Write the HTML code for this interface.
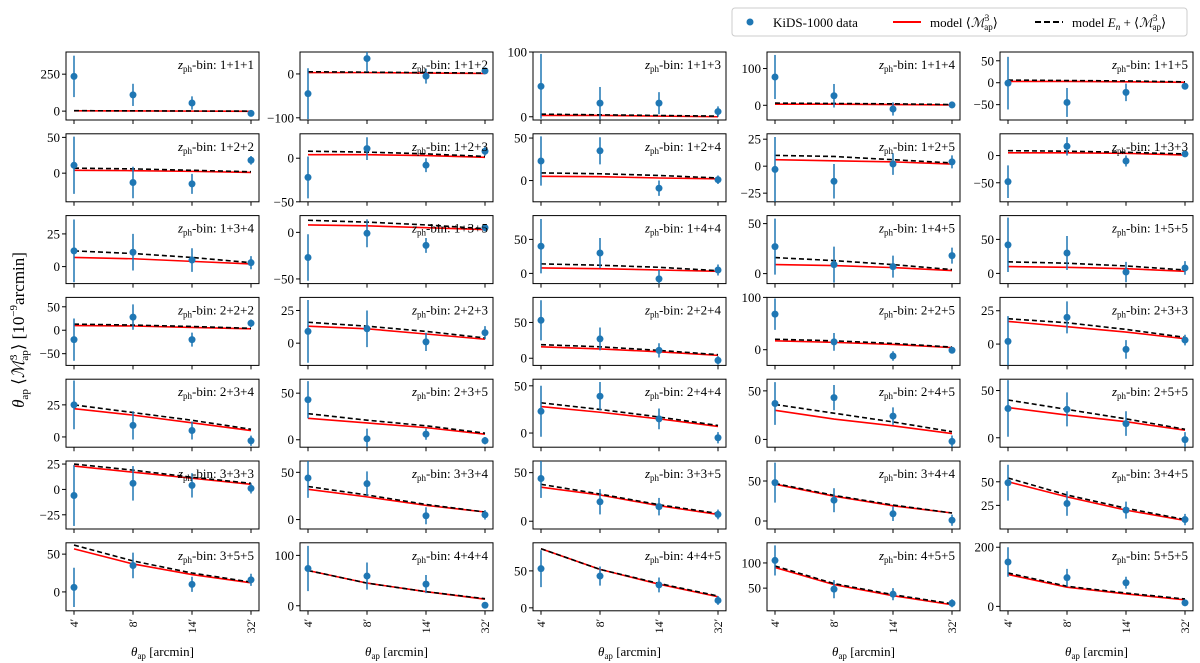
<!DOCTYPE html>
<html><head><meta charset="utf-8"><style>
body{margin:0;background:#fff}
svg{display:block;font-family:"Liberation Serif",serif}
</style></head><body>
<svg id="chart" width="1200" height="663" xmlns="http://www.w3.org/2000/svg">
<g id="legend">
<rect x="732" y="8" width="455" height="28" rx="3" fill="#fff" stroke="#ccc"/>
<circle cx="750" cy="22" r="3.5" fill="#1f77b4"/>
<text x="773" y="27" font-size="13">KiDS-1000 data</text>
<line x1="893" y1="22" x2="921" y2="22" stroke="#f00" stroke-width="2"/>
<text x="930" y="27" font-size="13">model ⟨<tspan font-style="italic">ℳ</tspan><tspan font-size="9" dy="-6">3</tspan><tspan font-size="9" dx="-5" dy="9">ap</tspan><tspan dy="-3">⟩</tspan></text>
<line x1="1035" y1="22" x2="1063" y2="22" stroke="#000" stroke-width="2" stroke-dasharray="6,3"/>
<text x="1072" y="27" font-size="13">model <tspan font-style="italic">E<tspan font-size="9" dy="3">n</tspan></tspan><tspan dy="-3"> + ⟨</tspan><tspan font-style="italic">ℳ</tspan><tspan font-size="9" dy="-6">3</tspan><tspan font-size="9" dx="-5" dy="9">ap</tspan><tspan dy="-3">⟩</tspan></text>
</g>
<text transform="translate(24,330) rotate(-90)" text-anchor="middle" font-size="17"><tspan font-style="italic">θ</tspan><tspan font-size="11" dy="4">ap</tspan><tspan dy="-4"> ⟨</tspan><tspan font-style="italic">ℳ</tspan><tspan font-size="11" dy="-7">3</tspan><tspan font-size="11" dx="-6" dy="11">ap</tspan><tspan dy="-4">⟩ [10</tspan><tspan font-size="11" dy="-7">−9</tspan><tspan dy="7">arcmin]</tspan></text>
</svg>
<script>
const xLabels=["4′","8′","14′","32′"];
const binLabels=["1+1+1","1+1+2","1+1+3","1+1+4","1+1+5","1+2+2","1+2+3","1+2+4","1+2+5","1+3+3","1+3+4","1+3+5","1+4+4","1+4+5","1+5+5","2+2+2","2+2+3","2+2+4","2+2+5","2+3+3","2+3+4","2+3+5","2+4+4","2+4+5","2+5+5","3+3+3","3+3+4","3+3+5","3+4+4","3+4+5","3+5+5","4+4+4","4+4+5","4+5+5","5+5+5"];
const yLims=[[-60,400],[-105,50],[-5,100],[-40,145],[-85,70],[-40,55],[-50,28],[-25,55],[-33,30],[-85,40],[-13,39],[-55,18],[-15,85],[-10,58],[-15,85],[-75,70],[-17,35],[-10,85],[-30,100],[-16,35],[-8,45],[-8,65],[-15,57],[-8,62],[-10,62],[-39,28],[-10,62],[-8,62],[-10,75],[0,72],[-25,65],[-10,125],[-4,88],[5,140],[-15,215]];
const yTicks=[[0,250],[-100,0],[0,100],[0,100],[-50,0,50],[0,50],[-50,0],[0,50],[-25,0,25],[-50,0],[0,25],[-50,0],[0,50],[0,50],[0,50],[-50,0,50],[0,25],[0,50],[0,100],[0,25],[0,25],[0,50],[0,50],[0,50],[0,50],[-25,0,25],[0,50],[0,50],[0,50],[25,50],[0,50],[0,100],[0,50],[50,100],[0,200]];
const dataVals=[[235,110,55,-15],[-45,35,-5,7],[47,21,21,8],[77,26,-10,1],[-1,-45,-22,-8],[11,-13,-15,18],[-22,11,-8,8],[23,35,-9,1],[-3,-14,2,4],[-48,17,-10,3],[12,11,5,3],[-27,-1,-14,5],[40,30,-8,5],[27,9,7,18],[42,30,2,8],[-20,28,-20,15],[9,11,1,8],[53,27,11,-3],[68,15,-12,-1],[2,20,-4,3],[25,9,5,-3],[43,1,6,-1],[23,39,15,-5],[37,43,24,-2],[31,30,15,-2],[-6,6,4,1],[44,38,4,5],[44,20,15,7],[48,26,9,1],[49,27,20,10],[6,35,10,16],[74,59,43,1],[53,43,31,10],[105,48,38,20],[150,97,80,12]];
const dataErr=[[140,75,45,10],[58,30,17,6],[50,25,17,8],[60,32,18,9],[60,33,20,7],[40,22,14,6],[24,13,8,5],[29,16,9,5],[30,16,10,6],[30,17,10,4],[24,14,9,5],[25,15,8,4],[40,22,13,8],[28,18,11,8],[40,25,15,10],[45,27,15,8],[24,14,7,5],[28,16,10,6],[30,17,9,5],[19,12,7,4],[19,11,7,4],[20,11,6,4],[27,15,11,6],[22,13,9,6],[30,18,13,8],[30,17,12,5],[21,13,9,5],[20,13,9,5],[25,15,9,7],[19,13,9,6],[26,17,10,8],[45,27,18,6],[25,13,10,6],[30,18,12,8],[50,30,20,10]];
const modelVals=[[2,1,0,-1],[3,3,2,1],[2,2,1,0],[3,3,2,1],[3,3,2,1],[4,3.5,2.5,1],[4,4,3,1],[5,4.5,3,2],[6,5,4,2],[5,5,4,1],[7,6,4,2],[8,7,5,3],[8,7,5,3],[9,8,6,3],[10,9,7,3],[10,9,6,3],[13,11,7,3],[16,13,9,4],[17,14,10,4],[17,13,9,4],[22,17,11,5],[23,18,13,6],[28,22,15,7],[30,21,14,6],[32,24,17,8],[23,17,11,5],[32,24,15,8],[35,27,16,7],[46,31,19,10],[50,34,20,9],[57,37,23,12],[70,45,28,13],[80,52,32,15],[91,57,35,17],[108,65,42,22]];
const modelEnVals=[[3,2,1,0],[5,4,3,2],[4,3,2,1],[6,5,4,2],[6,5,4,2],[7,6,4,2],[8,7,5,2],[9,8,6,3],[10,9,6,3],[9,8,6,3],[12,10,7,3],[13,11,8,4],[14,12,9,4],[16,13,9,4],[17,15,11,5],[13,11,8,4],[16,13,9,4],[19,16,11,5],[20,17,12,5],[19,16,11,5],[25,19,13,6],[28,21,15,7],[32,25,17,8],[36,27,18,8],[40,30,20,9],[25,19,12,6],[35,26,16,8],[38,28,17,8],[47,32,20,10],[54,36,22,10],[62,41,25,13],[70,45,28,14],[80,52,33,16],[94,59,37,19],[113,68,45,25]];

const NS="http://www.w3.org/2000/svg";
const svg=document.getElementById('chart');
const colLeft=[66,300,533,767,1000], W=193, H=68;
function mk(tag,attrs,parent){const e=document.createElementNS(NS,tag);for(const k in attrs)e.setAttribute(k,attrs[k]);parent.appendChild(e);return e;}
function fmt(v){return v<0?"−"+(-v):String(v);}
for(let i=0;i<binLabels.length;i++){
  const r=Math.floor(i/5), c=i%5;
  const L=colLeft[c], T=52+81.8*r;
  const [y0,y1]=yLims[i];
  const xs=k=>L+8+k*(W-16)/3;
  const ys=v=>T+H-(v-y0)/(y1-y0)*H;
  const g=mk('g',{},svg);
  
  
  const frame=mk('rect',{x:L,y:T,width:W,height:H,fill:'#fff',stroke:'#000','stroke-width':1},g);
  
  
  for(const t of yTicks[i]){
    const y=ys(t);
    mk('line',{x1:L-4,y1:y,x2:L,y2:y,stroke:'#000'},g);
    const tx=mk('text',{x:L-6,y:y+4.5,'text-anchor':'end','font-size':13},g);
    tx.textContent=fmt(t);
    
    
  }
  for(let k=0;k<4;k++){
    mk('line',{x1:xs(k),y1:T+H,x2:xs(k),y2:T+H+4,stroke:'#000'},g);
    if(r===6){
      const tx=mk('text',{transform:`translate(${xs(k)+4},${T+H+8}) rotate(-90)`,'text-anchor':'end','font-size':12},g);
      tx.textContent=xLabels[k];
      
      
    }
  }
  const cp='clip'+i;
  const cl=mk('clipPath',{id:cp},g);mk('rect',{x:L,y:T,width:W,height:H},cl);
  const gc=mk('g',{'clip-path':`url(#${cp})`},g);
  const red=mk('polyline',{points:modelVals[i].map((v,k)=>xs(k)+','+ys(v)).join(' '),fill:'none',stroke:'#f00','stroke-width':1.6},gc);
  
  
  const blk=mk('polyline',{points:modelEnVals[i].map((v,k)=>xs(k)+','+ys(v)).join(' '),fill:'none',stroke:'#000','stroke-width':1.6,'stroke-dasharray':'5,3'},gc);
  
  
  for(let k=0;k<4;k++){
    const v=dataVals[i][k], e=dataErr[i][k];
    const eb=mk('line',{x1:xs(k),x2:xs(k),y1:ys(v-e),y2:ys(v+e),stroke:'#1f77b4','stroke-width':1.5},gc);
    
    
    const pt=mk('circle',{cx:xs(k),cy:ys(v),r:3.5,fill:'#1f77b4'},gc);
    
    
  }
  const lab=mk('text',{x:L+W-5,y:T+17,'text-anchor':'end','font-size':13},g);
  lab.innerHTML='<tspan font-style="italic">z</tspan><tspan font-size="9" dy="3">ph</tspan><tspan dy="-3">-bin:  '+binLabels[i]+'</tspan>';
  
  
}
for(let c=0;c<5;c++){
  const tx=mk('text',{x:colLeft[c]+W/2,y:656,'text-anchor':'middle','font-size':13},svg);
  tx.innerHTML='<tspan font-style="italic">θ</tspan><tspan font-size="9" dy="3">ap</tspan><tspan dy="-3"> [arcmin]</tspan>';
  
  
}
</script>
</body></html>
